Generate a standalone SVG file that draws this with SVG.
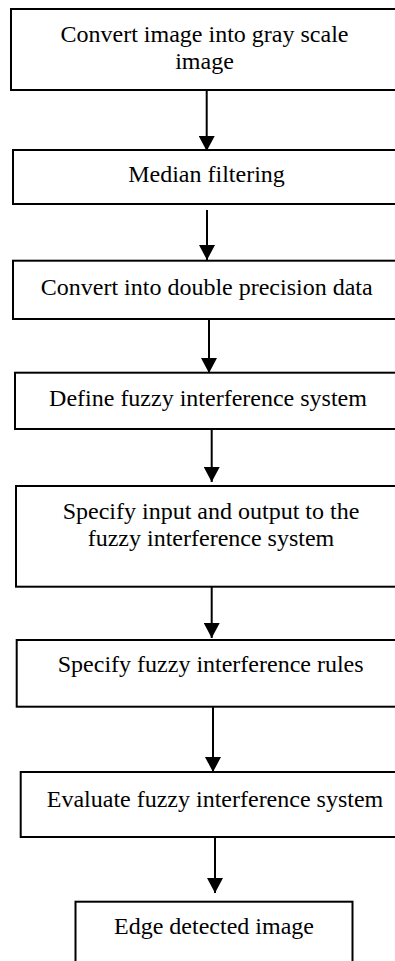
<svg xmlns="http://www.w3.org/2000/svg" width="395" height="961" viewBox="0 0 395 961">
<style>
.box{fill:#fff;stroke:#000;stroke-width:2}
.t{font-family:"Liberation Serif","Times New Roman",serif;font-size:24px;fill:#000;text-anchor:middle}
.c{stroke:#000;stroke-width:2;fill:none}
</style>
<defs>
<marker id="ah" markerUnits="userSpaceOnUse" markerWidth="16" markerHeight="16" refX="15" refY="8" orient="auto">
<path d="M0,0 L15,8 L0,16 Z" fill="#000"/>
</marker>
</defs>
<rect width="395" height="961" fill="#fff"/>
<g id="connectors">
<line class="c" x1="206.7" y1="90" x2="206.7" y2="151" marker-end="url(#ah)"/>
<line class="c" x1="207" y1="210" x2="207" y2="260" marker-end="url(#ah)"/>
<line class="c" x1="209" y1="319" x2="209" y2="373" marker-end="url(#ah)"/>
<line class="c" x1="211.7" y1="429" x2="211.7" y2="482" marker-end="url(#ah)"/>
<line class="c" x1="211.7" y1="587" x2="211.7" y2="638" marker-end="url(#ah)"/>
<line class="c" x1="213" y1="707" x2="213" y2="772" marker-end="url(#ah)"/>
<line class="c" x1="215" y1="837" x2="215" y2="893" marker-end="url(#ah)"/>
</g>
<g id="n1"><rect class="box" x="11" y="9" width="390" height="81"/>
<text class="t" x="204.5" y="42">Convert image into gray scale</text>
<text class="t" x="204.5" y="68.5">image</text></g>
<g id="n2"><rect class="box" x="13" y="150" width="390" height="54"/>
<text class="t" x="206.5" y="182">Median filtering</text></g>
<g id="n3"><rect class="box" x="13" y="260.7" width="390" height="58.3"/>
<text class="t" x="206.7" y="294.5">Convert into double precision data</text></g>
<g id="n4"><rect class="box" x="15" y="372.7" width="390" height="56.3"/>
<text class="t" x="208" y="406">Define fuzzy interference system</text></g>
<g id="n5"><rect class="box" x="16" y="486" width="390" height="100.7"/>
<text class="t" x="211" y="518.5">Specify input and output to the</text>
<text class="t" x="211" y="545.5">fuzzy interference system</text></g>
<g id="n6"><rect class="box" x="16.7" y="640" width="390" height="66.7"/>
<text class="t" x="210.7" y="672.3">Specify fuzzy interference rules</text></g>
<g id="n7"><rect class="box" x="20.7" y="772" width="390" height="65"/>
<text class="t" x="215" y="806.7">Evaluate fuzzy interference system</text></g>
<g id="n8"><rect class="box" x="75.5" y="901.7" width="277" height="80"/>
<text class="t" x="214" y="934">Edge detected image</text></g>
</svg>
